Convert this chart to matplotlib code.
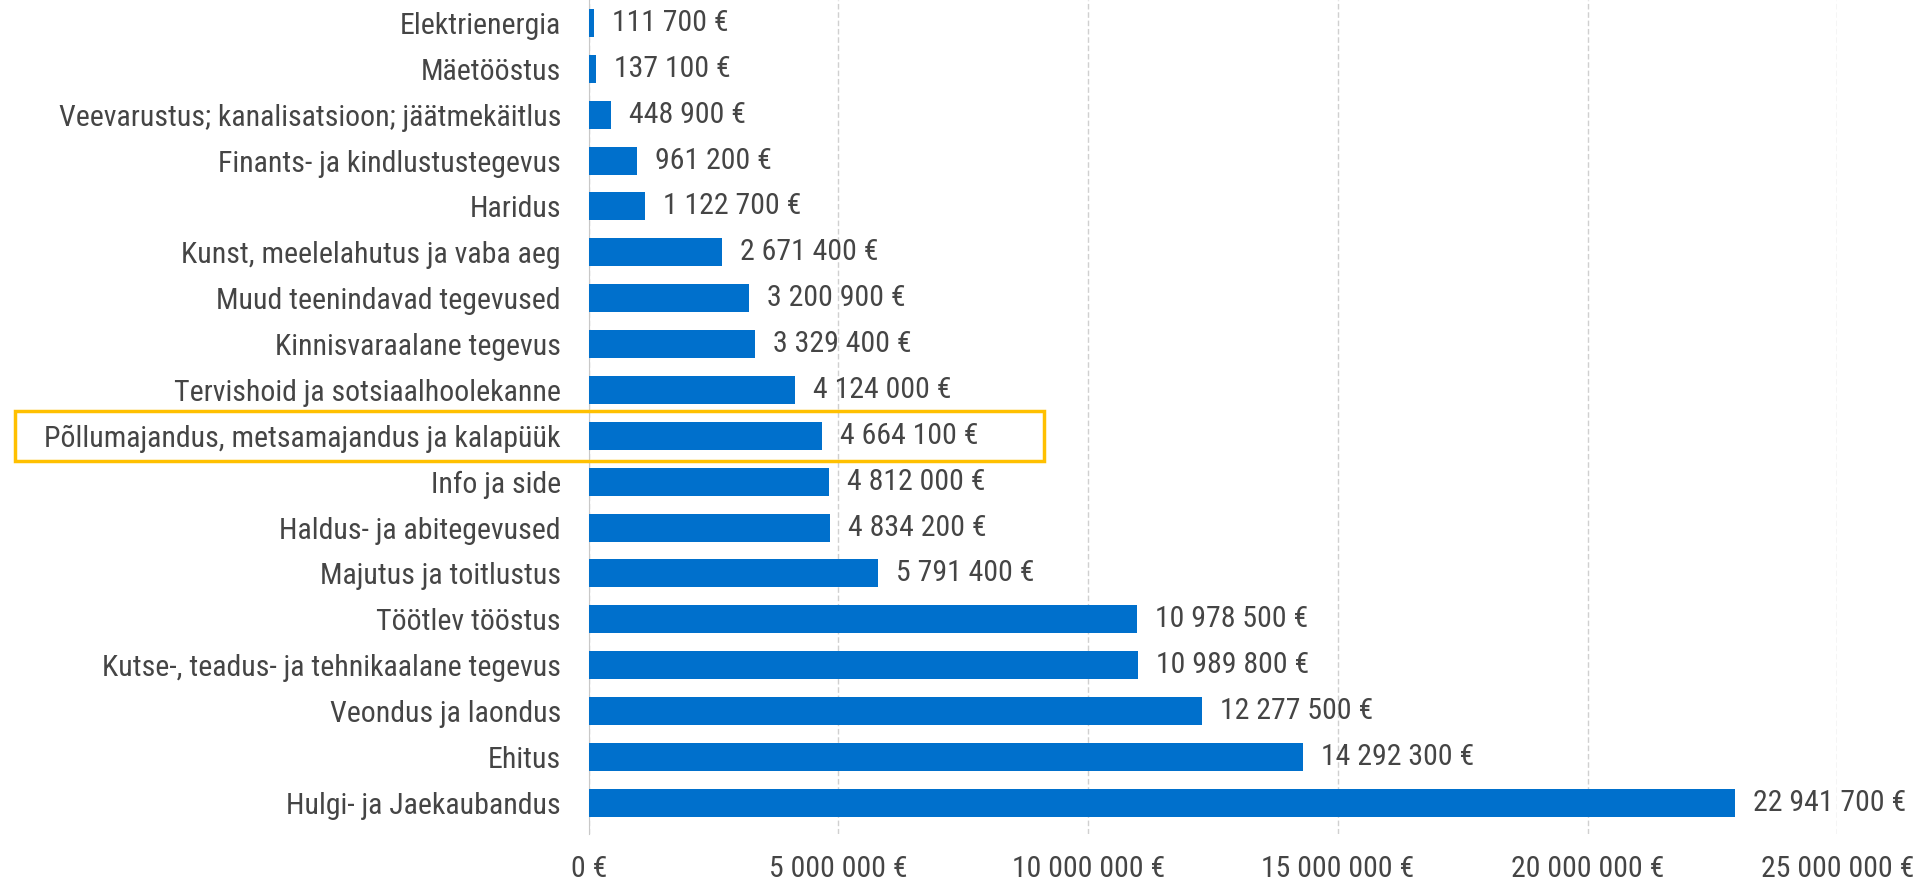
import matplotlib
matplotlib.use("Agg")
import matplotlib.pyplot as plt
import matplotlib.transforms as mtransforms
from matplotlib.patches import Rectangle

categories = [
    "Elektrienergia",
    "Mäetööstus",
    "Veevarustus; kanalisatsioon; jäätmekäitlus",
    "Finants- ja kindlustustegevus",
    "Haridus",
    "Kunst, meelelahutus ja vaba aeg",
    "Muud teenindavad tegevused",
    "Kinnisvaraalane tegevus",
    "Tervishoid ja sotsiaalhoolekanne",
    "Põllumajandus, metsamajandus ja kalapüük",
    "Info ja side",
    "Haldus- ja abitegevused",
    "Majutus ja toitlustus",
    "Töötlev tööstus",
    "Kutse-, teadus- ja tehnikaalane tegevus",
    "Veondus ja laondus",
    "Ehitus",
    "Hulgi- ja Jaekaubandus",
]
values = [111700, 137100, 448900, 961200, 1122700, 2671400, 3200900, 3329400,
          4124000, 4664100, 4812000, 4834200, 5791400, 10978500, 10989800,
          12277500, 14292300, 22941700]
xticks = [0, 5000000, 10000000, 15000000, 20000000, 25000000]
highlight = "Põllumajandus, metsamajandus ja kalapüük"

plt.rcParams['font.family'] = ['Roboto Condensed', 'DejaVu Sans']
FS = 21.5
GREY = '#454545'


def eur(v):
    return "{:,}".format(v).replace(",", " ") + " €"


fig = plt.figure(figsize=(19.24, 8.83), dpi=100)
ax = fig.add_axes([0.306, 0.0555, 0.649, 0.9445])

ypos = list(range(len(categories)))
ax.barh(ypos, values, height=0.61, color='#0070CC', zorder=3)
ax.set_ylim(len(categories) - 0.32, -0.5)
ax.set_xlim(0, 25000000)

for y, v in zip(ypos, values):
    ax.annotate(eur(v), (v, y), xytext=(13, 0), textcoords='offset points',
                va='center', ha='left', fontsize=FS, color=GREY)

ax.set_yticks(ypos)
ax.set_yticklabels(categories, fontsize=FS, color=GREY)
ax.set_xticks(xticks)
ax.set_xticklabels([eur(t) for t in xticks], fontsize=FS, color=GREY)
ax.tick_params(axis='y', length=0, pad=20)
ax.tick_params(axis='x', length=0, pad=15)

ax.grid(axis='x', color='#d0d0d0', linestyle=(0, (4, 2)), linewidth=1, zorder=0)
for s in ['top', 'right', 'bottom']:
    ax.spines[s].set_visible(False)
ax.spines['left'].set_color('#c8c8c8')

# orange box around the highlighted category
idx = categories.index(highlight)
trans = mtransforms.blended_transform_factory(fig.transFigure, ax.transData)
box = Rectangle((15 / 1924, idx + 0.55), (1044 - 15) / 1924, -1.1,
                transform=trans, fill=False, edgecolor='#FFC000',
                linewidth=2.5, clip_on=False, zorder=5)
fig.patches.append(box)

fig.savefig("out.png", dpi=100)
